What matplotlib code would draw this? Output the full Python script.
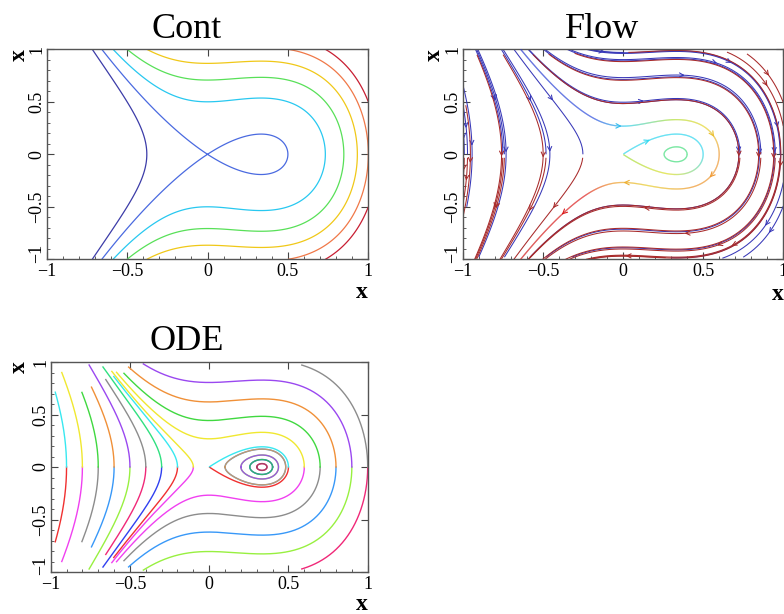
import numpy as np
import matplotlib
matplotlib.use("Agg")
import matplotlib.pyplot as plt
from matplotlib.collections import LineCollection
from matplotlib.colors import LinearSegmentedColormap
from matplotlib.ticker import MultipleLocator

plt.rcParams['font.family'] = ['Liberation Serif', 'DejaVu Serif']

# ---------------- data ----------------
titles = ['Cont', 'Flow', 'ODE']
axis_label = 'x'
tick_values = [-1, -0.5, 0, 0.5, 1]
tick_labels = ['\u22121', '\u22120.5', '0', '0.5', '1']

# Hamiltonian system H = y^2/2 + a*x^3 - b*x^2/2
coef_a = 1.0
coef_b = 1.0

# Cont panel
cont_levels = [-0.125, 0.0, 0.125, 0.25, 0.375, 0.5, 0.625]
cont_colors = ['#3c3ca8', '#4a6ae0', '#28c8f0', '#58e058', '#f0c818', '#f07848', '#c81e32']

# Flow panel: seed points (blue = backward half, red = forward half)
flow_seed_x = [-0.99, -0.97, -0.985, -0.975, -0.92, -0.90, -0.75, -0.74, -0.76, -0.74,
               -0.48, -0.25, -0.58, -0.58, 0.73, -0.485, -0.48, 0.86, -0.33, -0.32,
               0.95, 0.0, 0.3, 0.98, 0.75, 0.75, 0.62, 0.62]
flow_seed_y = [0.0, 0.0, 0.5, -0.5, 0.98, -0.98, 0.0, 0.0, 0.98, -0.98,
               0.0, 0.0, 0.98, -0.98, 0.0, 0.98, -0.98, 0.0, 0.98, -0.98,
               0.0, 0.97, -0.985, 0.0, 0.98, -0.98, 0.99, -0.99]
flow_back_color = '#3838b8'
flow_fwd_color = '#a82a2a'
flow_inner_x0 = [0.6, 0.5, 0.4]
flow_inner_stops = [[(0.0, '#2838d0'), (0.22, '#3050e0'), (0.28, '#30d0f0'), (0.36, '#b0e040'),
                     (0.42, '#e8d830'), (0.5, '#f09830'), (0.6, '#f09830'), (0.68, '#e8d030'),
                     (0.74, '#f0a030'), (0.8, '#e02020'), (1.0, '#d01818')],
                    [(0.0, '#30d8f0'), (0.5, '#30d8f0'), (0.75, '#e0e030'), (1.0, '#a0e040')],
                    [(0.0, '#48e080'), (1.0, '#48e080')]]

# ODE panel: start points on y = 0, end heights, colours of upper / lower branch
ode_x0 = [-0.9, -0.8, -0.7, -0.6, -0.5, -0.4, -0.3, -0.2, -0.1,
          0.1, 0.2, 0.3, 0.4, 0.5, 0.6, 0.7, 0.8, 0.9, 1.0]
ode_yend = [0.71, 0.90, 0.71, 0.76, 0.97, 0.83, 0.95, 0.86, 0.91,
            None, None, None, None, None, 0.90, 0.89, 0.95, 0.98, 0.97]
ode_top_colors = ['#38e8f0', '#f0e830', '#40d840', '#f09038', '#9a48f0', '#8c8c8c', '#30e080',
                  '#38e8f0', '#f0e830', '#d09860', '#9a48f0', '#a04060', '#30c060',
                  '#38e8f0', '#f0e830', '#40d840', '#f09038', '#9a48f0', '#8c8c8c']
ode_bottom_colors = ['#f03030', '#f040f0', '#8c8c8c', '#3898f8', '#98f040', '#f02878', '#3040f0',
                     '#f03030', '#f040f0', '#3898f8', '#98f040', '#f02878', '#3040f0',
                     '#f03030', '#f040f0', '#8c8c8c', '#3898f8', '#98f040', '#f02878']

# ---------------- helpers ----------------
def field(x, y):
    return y, coef_b * x - 3.0 * coef_a * x ** 2


def trace(x0, y0, sgn, yend=None, loop=False, ds=0.003, maxsteps=8000):
    def f(x, y):
        u, v = field(x, y)
        n = np.hypot(u, v) + 1e-12
        return sgn * u / n, sgn * v / n
    x, y = x0, y0
    pts = [(x, y)]
    prev = y
    cross = 0
    for i in range(maxsteps):
        k1 = f(x, y)
        k2 = f(x + ds / 2 * k1[0], y + ds / 2 * k1[1])
        k3 = f(x + ds / 2 * k2[0], y + ds / 2 * k2[1])
        k4 = f(x + ds * k3[0], y + ds * k3[1])
        x = x + ds / 6 * (k1[0] + 2 * k2[0] + 2 * k3[0] + k4[0])
        y = y + ds / 6 * (k1[1] + 2 * k2[1] + 2 * k3[1] + k4[1])
        if abs(x) > 1.0 or abs(y) > 1.0:
            break
        pts.append((x, y))
        if yend is not None and abs(y) >= yend:
            break
        if i > 5 and np.hypot(x, y) < 0.004:
            break
        if loop and prev * y < 0:
            cross += 1
            if cross >= 2:
                break
        prev = y
    return np.array(pts)


def up_sign(x0):
    return 1.0 if field(x0, 0.0)[1] > 0 else -1.0


W, HH = 784.0, 614.0
fig = plt.figure(figsize=(7.84, 6.14), dpi=100)


def style(ax):
    ax.set_xlim(-1, 1)
    ax.set_ylim(-1, 1)
    ax.set_xticks(tick_values)
    ax.set_xticklabels(tick_labels)
    ax.set_yticks(tick_values)
    # lowest y label is drawn separately, lifted clear of the x-axis labels
    ax.set_yticklabels([''] + tick_labels[1:], rotation=90, va='center')
    ax.annotate(tick_labels[0], xy=(0, tick_values[0]), xycoords=('axes fraction', 'data'),
                xytext=(-1.0, 4.5), textcoords='offset points', rotation=90,
                ha='right', va='center', fontsize=13)
    ax.xaxis.set_minor_locator(MultipleLocator(0.1))
    ax.yaxis.set_minor_locator(MultipleLocator(0.1))
    ax.tick_params(which='major', direction='in', length=5, width=0.8, color='#444444',
                   top=True, right=True, labelsize=13, pad=3)
    ax.tick_params(which='minor', direction='in', length=2.5, width=0.6, color='#444444',
                   top=False, right=False)
    ax.tick_params(axis='y', which='major', pad=1.0)
    for s in ax.spines.values():
        s.set_color('#555555')
        s.set_linewidth(1.0)


def add_axes_px(left, right, top, bottom):
    return fig.add_axes([left / W, 1 - bottom / HH, (right - left) / W, (bottom - top) / HH])


ax_c = add_axes_px(46.7, 368.3, 49.3, 259.3)
ax_f = add_axes_px(462.7, 783.3, 49.3, 259.3)
ax_o = add_axes_px(50.7, 367.7, 362, 572)
for ax in (ax_c, ax_f, ax_o):
    style(ax)

# titles and axis labels
for txt, (px, py) in zip(titles, [(186.7, 38.5), (602, 38.5), (186.7, 350.5)]):
    fig.text(px / W, 1 - py / HH, txt, ha='center', va='baseline', fontsize=26)
for (px, py) in [(367.5, 297.5), (783.5, 299.5), (367.5, 610.5)]:
    fig.text(px / W, 1 - py / HH, axis_label, ha='right', va='baseline', fontsize=17,
             fontweight='bold')
for (px, py) in [(19, 55), (434.5, 55), (19, 367)]:
    fig.text(px / W, 1 - py / HH, axis_label, ha='center', va='center', rotation=90,
             fontsize=17, fontweight='bold')

# ---------------- Cont ----------------
xg = np.linspace(-1, 1, 401)
yg = np.linspace(-1, 1, 401)
X, Y = np.meshgrid(xg, yg)
Hgrid = 0.5 * Y ** 2 + coef_a * X ** 3 - 0.5 * coef_b * X ** 2
ax_c.contour(X, Y, Hgrid, levels=cont_levels, colors=cont_colors, linewidths=0.9)

# ---------------- Flow ----------------
xs = np.linspace(-1, 1, 201)
ys = np.linspace(-1, 1, 201)
XS, YS = np.meshgrid(xs, ys)
U, V = field(XS, YS)
seeds = np.column_stack([flow_seed_x, flow_seed_y])
for col, direc in [(flow_back_color, 'backward'), (flow_fwd_color, 'forward')]:
    kw = dict(start_points=seeds, color=col, linewidth=0.75, arrowsize=0.75, arrowstyle='->',
              broken_streamlines=False, maxlength=6.0, density=2, integration_direction=direc)
    try:
        ax_f.streamplot(xs, ys, U, V, num_arrows=3, **kw)
    except TypeError:
        ax_f.streamplot(xs, ys, U, V, **kw)


def path_arc(pts):
    dl = np.hypot(*(pts[1:] - pts[:-1]).T)
    t = np.concatenate([[0], np.cumsum(dl)])
    return t / t[-1]


for x0, stops in zip(flow_inner_x0, flow_inner_stops):
    s = up_sign(x0)
    is_loop = x0 < 0.5
    up = trace(x0, 0.0, s, loop=is_loop)
    if is_loop:
        path = up
    else:
        dn = trace(x0, 0.0, -s)
        path = np.vstack([up[::-1], dn[1:]]) if s < 0 else np.vstack([dn[::-1], up[1:]])
    cmap = LinearSegmentedColormap.from_list('c%d' % int(x0 * 10), stops)
    t = path_arc(path)
    segs = np.stack([path[:-1], path[1:]], axis=1)
    lc = LineCollection(segs, cmap=cmap, linewidths=0.9, zorder=4)
    lc.set_array(t[:-1])
    lc.set_clim(0, 1)
    ax_f.add_collection(lc)
    if not is_loop:
        n = len(path)
        fracs = [0.27, 0.45, 0.56, 0.72, 0.86] if x0 > 0.55 else [0.15]
        for frac in fracs:
            i = int(frac * n)
            c = cmap(t[i])
            ax_f.annotate('', xy=path[min(i + 4, n - 1)], xytext=path[i],
                          arrowprops=dict(arrowstyle='->', color=c, lw=0.8,
                                          mutation_scale=8), zorder=5)

# ---------------- ODE ----------------
for x0, ye, ct, cb in zip(ode_x0, ode_yend, ode_top_colors, ode_bottom_colors):
    s = up_sign(x0)
    is_loop = 0.0 < x0 < 0.5
    up = trace(x0, 0.0, s, yend=ye, loop=is_loop)
    dn = trace(x0, 0.0, -s, yend=ye, loop=is_loop)
    if is_loop:
        ax_o.plot(dn[:, 0], dn[:, 1], color=cb, lw=1.0)
        ax_o.plot(up[:, 0], up[:, 1], color=ct, lw=1.0, alpha=0.9)
    else:
        ax_o.plot(dn[:, 0], dn[:, 1], color=cb, lw=1.0)
        ax_o.plot(up[:, 0], up[:, 1], color=ct, lw=1.0)

fig.savefig('out.png', dpi=100)
